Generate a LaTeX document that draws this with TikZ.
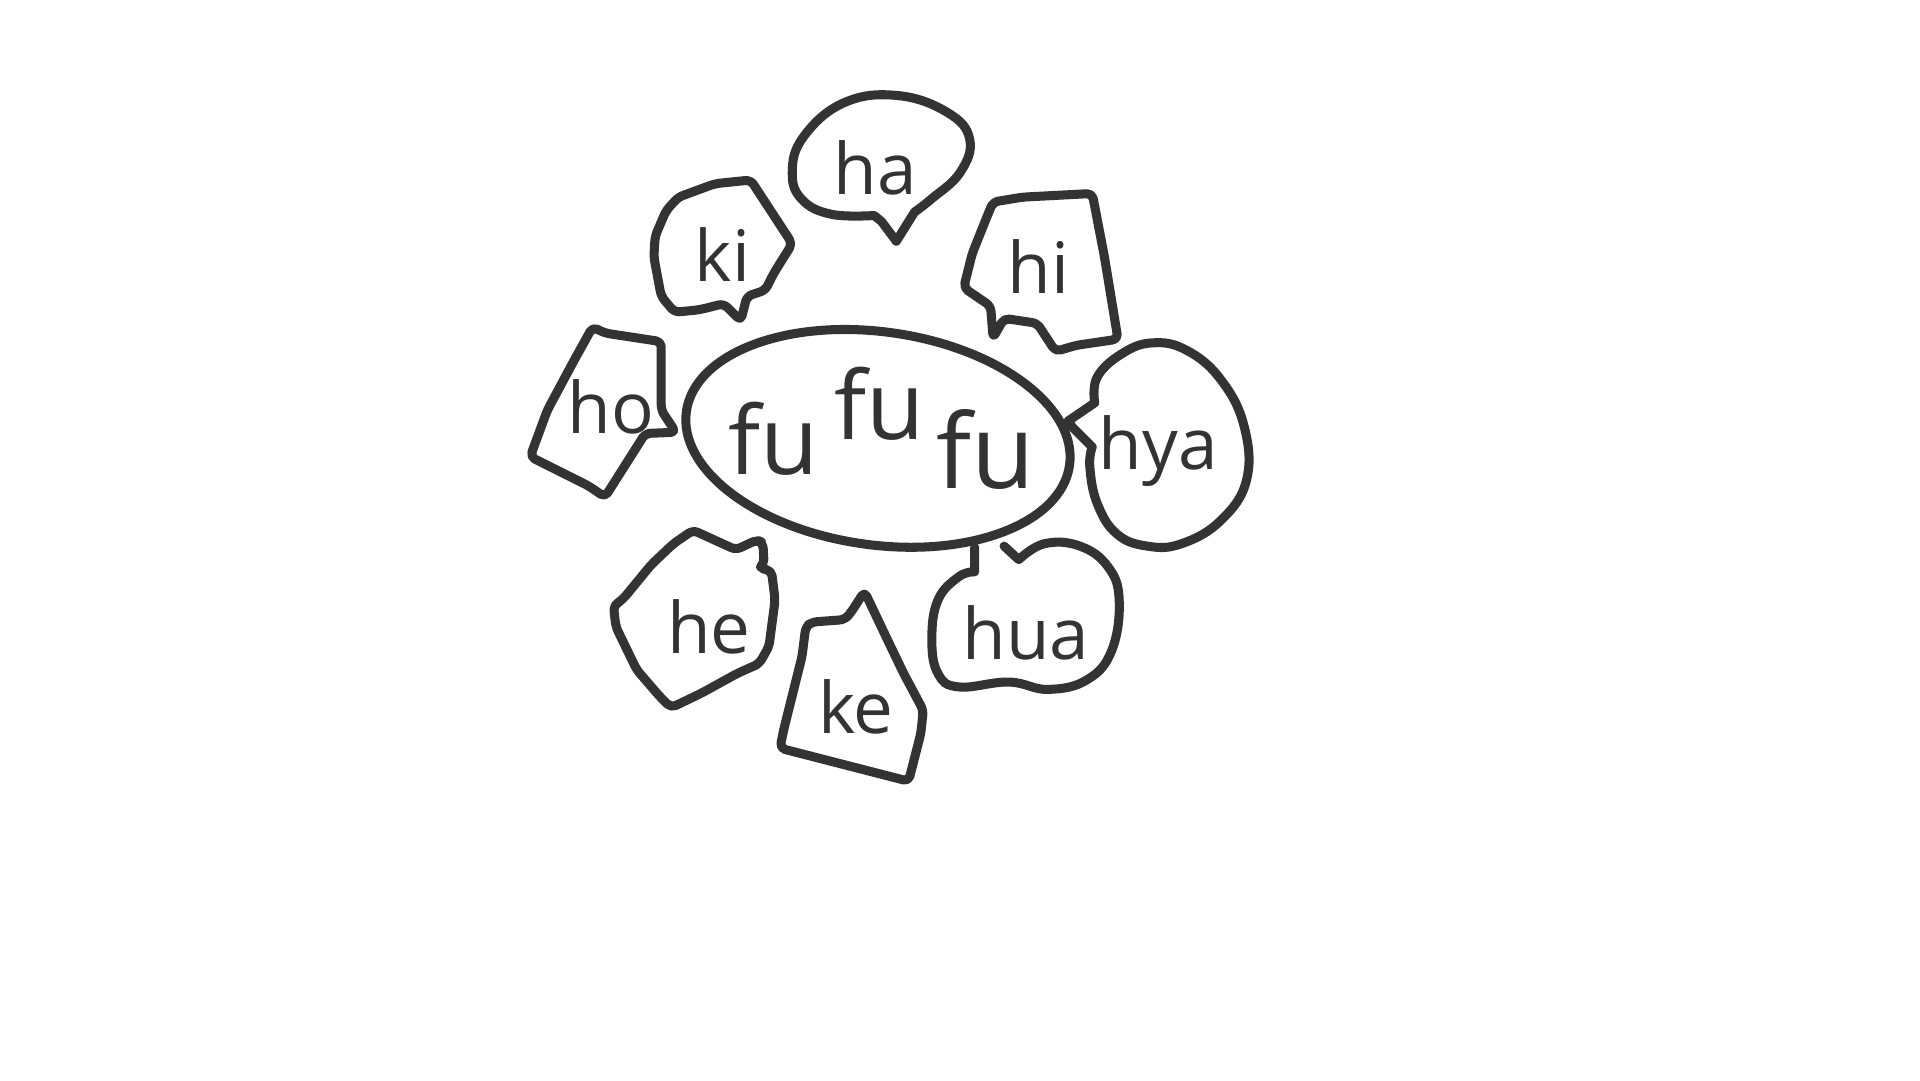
\documentclass[tikz,border=0pt]{standalone}
\usepackage{fontspec}
\setmainfont{Open Sans}
\usepackage{xcolor}
\usepackage{tikz}

\definecolor{ink}{HTML}{333333}

\begin{document}
\begin{tikzpicture}[
  x=0.1mm, y=-0.1mm,
  bubble/.style={draw=ink, line width=2.1pt, line join=round, line cap=round},
  sharp/.style={bubble, rounded corners=1.2pt},
  word/.style={text=ink, inner sep=0pt, font=\fontsize{16.5}{16.5}\selectfont},
  bigword/.style={word, font=\fontsize{22}{22}\selectfont}
]
\useasboundingbox (0,0) rectangle (1568,882);

% centre
\draw[bubble, rotate around={-8:(717,358)}] (717,358) ellipse [x radius=15.8mm, y radius=8.7mm];
\node[bigword] (fuA) at (632,358) {fu};
\node[bigword] (fuB) at (718,330) {fu};
\node[bigword, font=\fontsize{24}{24}\selectfont] (fuC) at (805,367) {fu};

% round bubbles
\draw[bubble] (732,197) -- (747,173) -- plot[smooth, tension=0.7] coordinates {(747,173) (760,163) (784,141) (792,114) (774,92) (733,78) (689,84) (656,112) (647,141) (655,163) (679,175) (714,176)} -- (720,181) -- cycle;
\draw[bubble] (872,344) -- (894,329) -- plot[smooth, tension=0.7] coordinates {(894,329) (896,308) (916,289) (941,280) (969,286) (997,310) (1016,348) (1018,392) (997,425) (965,444) (937,446) (912,436) (896,411) (890,381) (892,365)} -- (876,349) -- cycle;
\draw[bubble] (796,447) -- (796,467) -- plot[smooth, tension=0.7] coordinates {(796,467) (783,471) (766,490) (761,522) (766,550) (783,561) (824,557) (856,563) (888,555) (908,531) (914,490) (905,463) (882,446) (853,444) (832,457)} -- (820,446);

% jagged bubbles
\draw[sharp] (554,161) -- (584,150) -- (613,147) -- (647,199) -- (632,223) -- (625,237) -- (610,242) -- (605,262) -- (591,248) -- (571,253) -- (551,255) -- (540,242) -- (534,210) -- (535,193) -- (544,172) -- cycle;
\draw[sharp] (811,165) -- (835,161) -- (892,158) -- (902,210) -- (913,277) -- (879,282) -- (862,287) -- (847,264) -- (820,260) -- (811,276) -- (809,250) -- (787,235) -- (794,207) -- (806,177) -- cycle;
\draw[sharp] (484,267) -- (494,272) -- (540,279) -- (540,335) -- (552,353) -- (527,354) -- (494,406) -- (481,397) -- (433,373) -- (447,335) -- (469,294) -- cycle;
\draw[sharp] (566,433) -- (601,449) -- (618,441) -- (623,443) -- (624,460) -- (620,464) -- (630,466) -- (633,490) -- (628,528) -- (620,542) -- (602,550) -- (573,566) -- (548,578) -- (539,569) -- (520,547) -- (503,512) -- (501,495) -- (509,489) -- (532,461) -- (550,444) -- cycle;
\draw[sharp] (706,483) -- (725,523) -- (738,550) -- (754,580) -- (752,599) -- (742,638) -- (637,611) -- (640,596) -- (655,536) -- (658,512) -- (663,508) -- (690,506) -- (695,500) -- cycle;

% syllables
\foreach \n/\x/\y in {ha/715/137, ki/590/208, hi/848/218, ho/499/332, hya/946/368, he/579/512, ke/699/577, hua/838/517}
  \node[word] (\n) at (\x,\y) {\n};
\end{tikzpicture}
\end{document}
